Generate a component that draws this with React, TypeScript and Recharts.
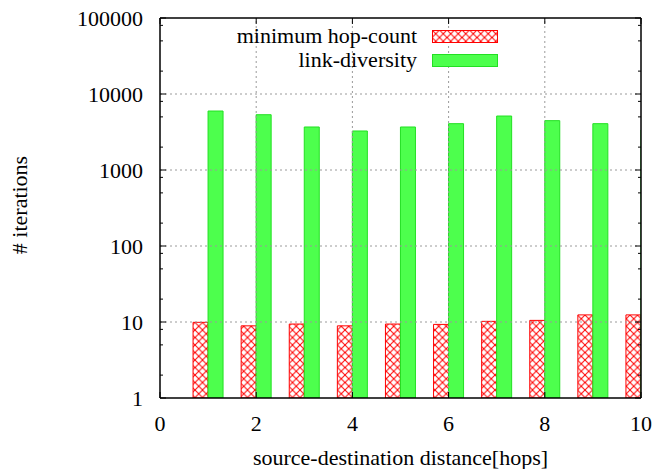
import { Bar, ComposedChart, Label, Legend, ReferenceLine, XAxis, YAxis } from "recharts";

const hops = [1, 2, 3, 4, 5, 6, 7, 8, 9, 10];
const minHopCount = [9.9, 8.9, 9.4, 8.9, 9.4, 9.3, 10.2, 10.5, 12.4, 12.4];
const linkDiversity = [5970, 5340, 3680, 3260, 3680, 4070, 5130, 4460, 4070, 3360];
const seriesOrder = ["minHop", "linkDiv"];

const xTicks = [0, 2, 4, 6, 8, 10];
const yMajor = [1, 10, 100, 1000, 10000, 100000];
const yMinorSteps = [2, 5, 8];

const font =
  '"Liberation Serif", "Times New Roman", Times, Tinos, "Nimbus Roman", "TeX Gyre Termes", "Noto Serif", "DejaVu Serif", FreeSerif, serif';
const fontSize = 22;
const borderWidth = 1.5;
const yLabelGap = 17;
const gridColor = "#9a9a9a";
const gridDash = "2 3";

const data = hops.map((h, i) => ({
  hop: h,
  minHop: minHopCount[i],
  linkDiv: linkDiversity[i],
}));

const yTicks = [
  ...yMajor,
  ...yMajor.slice(0, -1).flatMap((d) => yMinorSteps.map((s) => d * s)),
].sort((a, b) => a - b);

const isMajor = (v: number) => yMajor.includes(v);

function LeftTick(props: any) {
  const { x, y, payload } = props;
  const axisX = x + yLabelGap;
  const len = isMajor(payload.value) ? 6 : 3;
  return (
    <g>
      <line x1={axisX} y1={y} x2={axisX + len} y2={y} stroke="#000" strokeWidth={1} />
      {isMajor(payload.value) && (
        <text x={x} y={y} textAnchor="end" dominantBaseline="central" style={{ fontFamily: font }} fontSize={fontSize} fill="#000">
          {payload.value}
        </text>
      )}
    </g>
  );
}

function RightTick(props: any) {
  const { x, y, payload } = props;
  const len = isMajor(payload.value) ? 6 : 3;
  return <line x1={x} y1={y} x2={x - len} y2={y} stroke="#000" strokeWidth={1} />;
}

function BottomTick(props: any) {
  const { x, y, payload } = props;
  return (
    <g>
      <line x1={x} y1={y} x2={x} y2={y - 6} stroke="#000" strokeWidth={1} />
      <text x={x} y={y + 33} textAnchor="middle" style={{ fontFamily: font }} fontSize={fontSize} fill="#000">
        {payload.value}
      </text>
    </g>
  );
}

function TopTick(props: any) {
  const { x, y } = props;
  return <line x1={x} y1={y} x2={x} y2={y + 6} stroke="#000" strokeWidth={1} />;
}

function HatchSwatch() {
  return (
    <svg width={66} height={13} style={{ marginLeft: 15, display: "block" }}>
      <defs>
        <pattern id="hatchRedLegend" patternUnits="userSpaceOnUse" width="7.5" height="7.5">
          <rect width="7.5" height="7.5" fill="#fff" />
          <path d="M0,0 L7.5,7.5 M7.5,0 L0,7.5" stroke="#ff0000" strokeWidth={1} />
        </pattern>
      </defs>
      <rect x={0.5} y={0.5} width={65} height={12} fill="url(#hatchRedLegend)" stroke="#ff0000" />
    </svg>
  );
}

function GreenSwatch() {
  return (
    <svg width={66} height={13} style={{ marginLeft: 15, display: "block" }}>
      <rect x={0.5} y={0.5} width={65} height={12} fill="#4dff4d" stroke="#22e022" />
    </svg>
  );
}

function renderLegend(props: any) {
  const items = [...(props.payload ?? [])].sort(
    (a: any, b: any) => seriesOrder.indexOf(a.dataKey) - seriesOrder.indexOf(b.dataKey)
  );
  return (
    <div style={{ fontFamily: font, fontSize, color: "#000" }}>
      {items.map((item: any) => (
        <div key={item.value} style={{ display: "flex", alignItems: "center", height: 24 }}>
          <span style={{ width: 217, textAlign: "right", lineHeight: "24px", whiteSpace: "nowrap" }}>
            {item.value}
          </span>
          {item.dataKey === "minHop" ? <HatchSwatch /> : <GreenSwatch />}
        </div>
      ))}
    </div>
  );
}

export default function App() {
  return (
    <div style={{ position: "absolute", left: 0, top: 0, background: "#fff", fontFamily: font }}>
      <ComposedChart
        width={659}
        height={469}
        data={data}
        margin={{ top: 0, right: 0, bottom: 0, left: 0 }}
        barGap={0}
        style={{ fontFamily: font }}
      >
        <defs>
          <pattern id="hatchRed" patternUnits="userSpaceOnUse" width="7.5" height="7.5">
            <rect width="7.5" height="7.5" fill="#fff" />
            <path d="M0,0 L7.5,7.5 M7.5,0 L0,7.5" stroke="#ff0000" strokeWidth={1} />
          </pattern>
        </defs>
        <XAxis
          dataKey="hop"
          type="number"
          domain={[0, 10]}
          ticks={xTicks}
          allowDataOverflow
          height={71}
          tickSize={0}
          tickMargin={0}
          tick={<BottomTick />}
          axisLine={{ stroke: "#000", strokeWidth: borderWidth }}
          interval={0}
        >
          <Label
            content={(p: any) => (
              <text
                x={p.viewBox.x + p.viewBox.width / 2}
                y={p.viewBox.y + 67}
                textAnchor="middle"
                style={{ fontFamily: font }}
                fontSize={fontSize}
                fill="#000"
              >
                source-destination distance[hops]
              </text>
            )}
          />
        </XAxis>
        <XAxis
          xAxisId="top"
          dataKey="hop"
          type="number"
          orientation="top"
          domain={[0, 10]}
          ticks={xTicks}
          allowDataOverflow
          height={18}
          tickSize={0}
          tickMargin={0}
          tick={<TopTick />}
          axisLine={{ stroke: "#000", strokeWidth: borderWidth }}
          interval={0}
        />
        <YAxis
          type="number"
          scale="log"
          domain={[1, 100000]}
          ticks={yTicks}
          allowDataOverflow
          width={160}
          tickSize={0}
          tickMargin={yLabelGap}
          tick={<LeftTick />}
          axisLine={{ stroke: "#000", strokeWidth: borderWidth }}
          interval={0}
        >
          <Label
            content={(p: any) => {
              const cx = 19;
              const cy = p.viewBox.y + p.viewBox.height / 2 - 3;
              return (
                <text
                  x={cx}
                  y={cy}
                  transform={`rotate(-90 ${cx} ${cy})`}
                  textAnchor="middle"
                  dominantBaseline="central"
                  style={{ fontFamily: font }}
                  fontSize={fontSize}
                  fill="#000"
                >
                  # iterations
                </text>
              );
            }}
          />
        </YAxis>
        <YAxis
          yAxisId="right"
          orientation="right"
          type="number"
          scale="log"
          domain={[1, 100000]}
          ticks={yTicks}
          allowDataOverflow
          width={18}
          tickSize={0}
          tickMargin={0}
          tick={<RightTick />}
          axisLine={{ stroke: "#000", strokeWidth: borderWidth }}
          interval={0}
        />
        {yMajor.slice(1, -1).map((v) => (
          <ReferenceLine key={`gy${v}`} y={v} stroke={gridColor} strokeDasharray={gridDash} />
        ))}
        {xTicks.slice(1, -1).map((v) => (
          <ReferenceLine key={`gx${v}`} x={v} stroke={gridColor} strokeDasharray={gridDash} />
        ))}
        <Legend
          layout="vertical"
          align="center"
          verticalAlign="middle"
          wrapperStyle={{ left: 200, top: 24, width: 320 }}
          content={renderLegend}
        />
        <Bar
          dataKey="minHop"
          name="minimum hop-count"
          fill="url(#hatchRed)"
          stroke="#ff0000"
          strokeWidth={1}
          barSize={15}
          isAnimationActive={false}
        />
        <Bar
          dataKey="linkDiv"
          name="link-diversity"
          fill="#4dff4d"
          stroke="#22e022"
          strokeWidth={1}
          barSize={15}
          isAnimationActive={false}
        />
      </ComposedChart>
    </div>
  );
}
